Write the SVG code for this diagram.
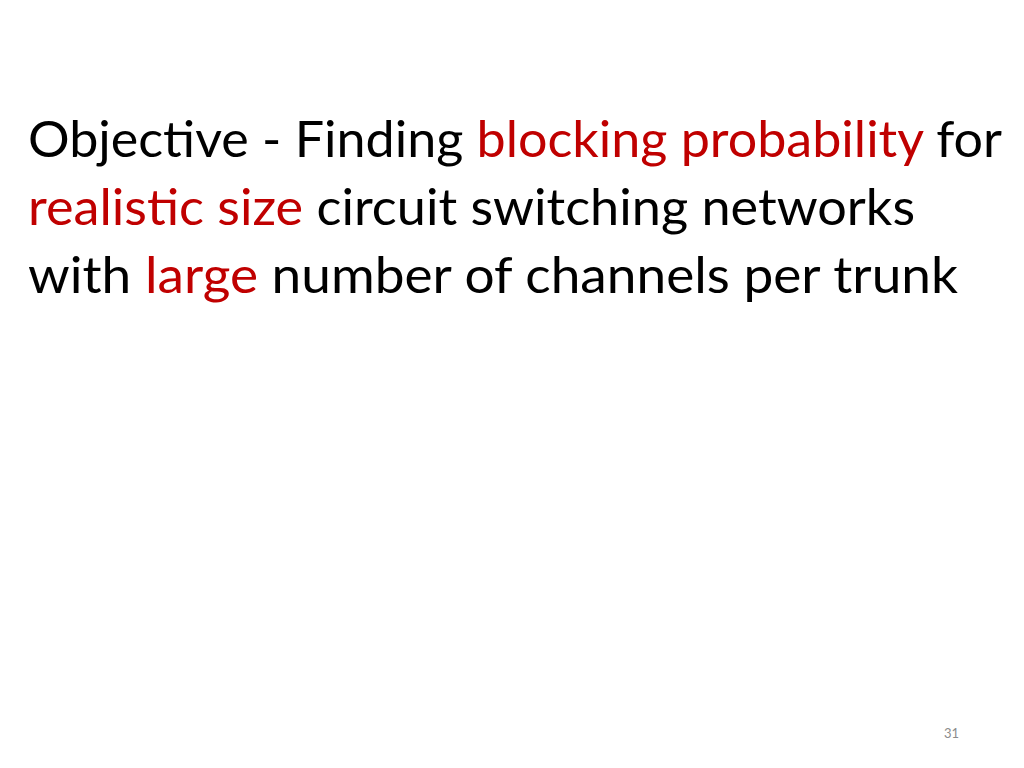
<svg xmlns="http://www.w3.org/2000/svg" width="1024" height="768" viewBox="0 0 1024 768">
<style>
.t{font-family:Lato,"Open Sans","Liberation Sans",sans-serif;font-size:50px;fill:#000}
.r{fill:#c00000}
.n{font-family:Lato,"Liberation Sans",sans-serif;font-size:13px;fill:#8c8c8c}
</style>
<rect width="1024" height="768" fill="#fff"/>
<text class="t" x="28" y="157" textLength="974" lengthAdjust="spacingAndGlyphs">Objective - Finding <tspan class="r">blocking probability</tspan> for</text>
<text class="t" x="28" y="225" textLength="887" lengthAdjust="spacingAndGlyphs"><tspan class="r">realistic size</tspan> circuit switching networks</text>
<text class="t" x="28" y="293" textLength="930" lengthAdjust="spacingAndGlyphs">with <tspan class="r">large</tspan> number of channels per trunk</text>
<text class="n" x="944" y="738">31</text>
</svg>
